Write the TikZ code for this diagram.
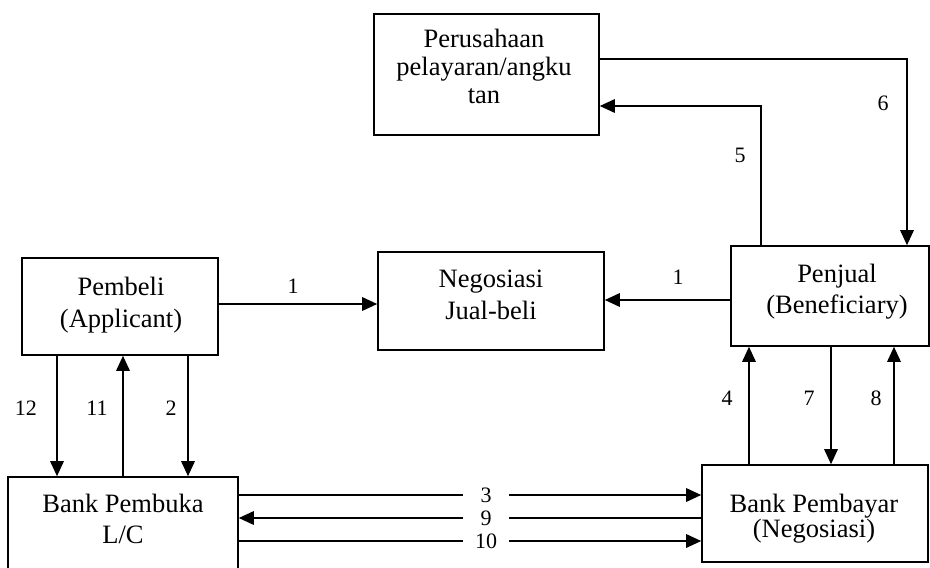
\documentclass[tikz,border=0pt]{standalone}
\usepackage{fontspec}
\setmainfont{Liberation Serif}
\usetikzlibrary{arrows.meta}
\begin{document}
\begin{tikzpicture}[x=1pt,y=-1pt,
  box/.style={draw, line width=1.6pt, inner sep=0pt},
  txt/.style={align=center, inner sep=0pt, font=\fontsize{26.5}{#1}\selectfont},
  txt/.default=31,
  num/.style={inner sep=0pt, font=\fontsize{22}{22}\selectfont},
  gap/.style={num, minimum width=46pt},
  link/.style={line width=1.6pt},
  arr/.style={line width=1.6pt, -{Triangle[length=15pt,width=13.5pt]}}]
\useasboundingbox (0,0) rectangle (930,568);

% parties and banks
\node[box, minimum width=225pt, minimum height=121pt] (ship) at (486.5,74.5) {};
\node[txt=28] (shiptext) at (484,66) {Perusahaan\\pelayaran/angku\\tan};

\node[box, minimum width=196pt, minimum height=97pt] (buyer) at (120,306.5) {};
\node[txt=32] (buyertext) at (121,305) {Pembeli\\(Applicant)};

\node[box, minimum width=226pt, minimum height=98pt] (nego) at (491,301) {};
\node[txt=32] (negotext) at (491,294.5) {Negosiasi\\Jual-beli};

\node[box, minimum width=198pt, minimum height=100pt] (seller) at (830,296) {};
\node[txt] (sellertext) at (837,291.5) {Penjual\\(Beneficiary)};

\node[box, minimum width=230pt, minimum height=98pt] (issuing) at (123,526) {};
\node[txt] (issuingtext) at (123,518.5) {Bank Pembuka\\L/C};

\node[box, minimum width=226pt, minimum height=97pt] (paying) at (815,513.5) {};
\node[txt=25] (payingtext) at (814,518.5) {Bank Pembayar\\(Negosiasi)};

% step 1: negotiation
\draw[arr] ([yshift=2.5pt]buyer.east) -- ([yshift=2.5pt]buyer.east -| nego.west);
\draw[arr] ([yshift=-4pt]seller.west) -- ([yshift=-4pt]seller.west -| nego.east);
\node[num] (n1a) at (293,286) {1};
\node[num] (n1b) at (678,277) {1};

% steps 5 and 6: shipping
\draw[arr] ([xshift=-69pt]seller.north) |- ([yshift=-31.5pt]ship.east);
\draw[arr] ([yshift=15.5pt]ship.east) -| ([xshift=77pt]seller.north);
\node[num] (n5) at (740,155) {5};
\node[num] (n6) at (883,103) {6};

% buyer and issuing bank
\draw[arr] ([xshift=-63pt]buyer.south) -- ([xshift=-63pt]buyer.south |- issuing.north);
\draw[arr] ([xshift=3pt]buyer.south |- issuing.north) -- ([xshift=3pt]buyer.south);
\draw[arr] ([xshift=68pt]buyer.south) -- ([xshift=68pt]buyer.south |- issuing.north);
\node[num] (n12) at (26,408) {12};
\node[num] (n11) at (97,408) {11};
\node[num] (n2) at (171,408) {2};

% seller and paying bank
\draw[arr] ([xshift=-66pt]paying.north) -- ([xshift=-66pt]paying.north |- seller.south);
\draw[arr] ([xshift=1pt]seller.south) -- ([xshift=1pt]seller.south |- paying.north);
\draw[arr] ([xshift=79pt]paying.north) -- ([xshift=79pt]paying.north |- seller.south);
\node[num] (n4) at (727,398) {4};
\node[num] (n7) at (809,398) {7};
\node[num] (n8) at (876,398) {8};

% between the banks
\node[gap] (n3) at (486,495) {3};
\node[gap] (n9) at (486,518) {9};
\node[gap] (n10) at (486,541) {10};
\draw[link] (n3.west -| issuing.east) -- (n3.west);
\draw[arr] (n3.east) -- (n3.east -| paying.west);
\draw[arr] (n9.west) -- (n9.west -| issuing.east);
\draw[link] (n9.east -| paying.west) -- (n9.east);
\draw[link] (n10.west -| issuing.east) -- (n10.west);
\draw[arr] (n10.east) -- (n10.east -| paying.west);
\end{tikzpicture}
\end{document}
